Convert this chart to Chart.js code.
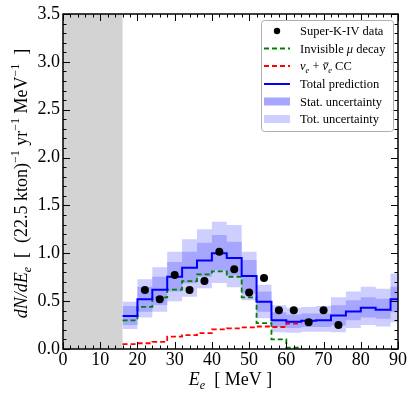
<!DOCTYPE html>
<html><head><meta charset="utf-8">
<script src="https://cdn.jsdelivr.net/npm/chart.js@4.4.1/dist/chart.umd.min.js"></script>
<style>html,body{margin:0;padding:0;background:#fff}#wrap{width:415px;height:399px;position:relative}</style>
</head><body><div id="wrap"><canvas id="c" width="415" height="399"></canvas></div>
<script>
// ---- data ----
const binEdges = [16,20,24,28,32,36,40,44,48,52,56,60,64,68,72,76,80,84,88,90];
const totalPrediction = [0.345,0.52,0.62,0.755,0.85,0.925,1.0,0.95,0.763,0.494,0.30,0.285,0.295,0.30,0.35,0.393,0.43,0.41,0.52];
const statLow  = [0.25,0.39,0.46,0.60,0.686,0.755,0.82,0.77,0.58,0.39,0.23,0.22,0.23,0.23,0.246,0.30,0.33,0.316,0.385];
const statHigh = [0.45,0.65,0.755,0.91,1.017,1.11,1.19,1.12,0.93,0.60,0.385,0.36,0.37,0.37,0.456,0.51,0.54,0.525,0.65];
const totLow   = [0.21,0.33,0.39,0.50,0.546,0.634,0.69,0.645,0.51,0.32,0.176,0.17,0.18,0.18,0.176,0.22,0.25,0.236,0.28];
const totHigh  = [0.494,0.73,0.853,1.017,1.146,1.25,1.33,1.296,1.017,0.67,0.456,0.43,0.44,0.45,0.54,0.60,0.65,0.63,0.79];
const invisibleMuDecay = [0.30,0.44,0.54,0.62,0.71,0.78,0.81,0.755,0.54,0.27,0.10,0.015];
const nueCC = [0.05,0.06,0.075,0.13,0.145,0.165,0.205,0.215,0.225,0.235,0.23,0.265];
const dataEnergy = [22,26,30,34,38,42,46,50,54,58,62,66,70,74];
const dataRate   = [0.617,0.52,0.773,0.617,0.71,1.017,0.833,0.59,0.742,0.404,0.404,0.279,0.404,0.25];
const xTickValues = [0,10,20,30,40,50,60,70,80,90];
const yTickValues = [0,0.5,1.0,1.5,2.0,2.5,3.0,3.5];
const excludedRange = [0,16];

const SERIF = '"Liberation Serif","DejaVu Serif",serif';
const STAT_COLOR = 'rgb(166,166,255)';
const TOT_COLOR = 'rgb(206,206,255)';

function stepPoints(values){
  const pts = values.map((v,i)=>({x:binEdges[i], y:v}));
  pts.push({x:binEdges[values.length], y:values[values.length-1]});
  return pts;
}

function richWidth(ctx, segs){
  let w=0;
  for(const s of segs){ ctx.font=(s.it?'italic ':'')+s.size+'px '+SERIF; w+=ctx.measureText(s.t).width; }
  return w;
}
function drawRich(ctx, segs, x, y, align){
  let cx = x;
  if(align==='center') cx = x - richWidth(ctx,segs)/2;
  ctx.textBaseline='alphabetic'; ctx.textAlign='left'; ctx.fillStyle='#000';
  for(const s of segs){
    ctx.font=(s.it?'italic ':'')+s.size+'px '+SERIF;
    const w = ctx.measureText(s.t).width;
    ctx.fillText(s.t, cx, y+(s.dy||0));
    if(s.bar){ ctx.save(); ctx.strokeStyle='#000'; ctx.lineWidth=0.9; ctx.beginPath();
      ctx.moveTo(cx+1.5, y+(s.dy||0)-s.size*0.58); ctx.lineTo(cx+w+0.5, y+(s.dy||0)-s.size*0.58); ctx.stroke(); ctx.restore(); }
    cx += w;
  }
}

const decor = {
  id:'decor',
  beforeDatasetsDraw(chart){
    const {ctx, chartArea:a, scales:{x}} = chart;
    ctx.save();
    ctx.fillStyle='#d3d3d3';
    const x0=x.getPixelForValue(excludedRange[0]), x1=x.getPixelForValue(excludedRange[1]);
    ctx.fillRect(x0, a.top, x1-x0, a.bottom-a.top);
    ctx.restore();
  },
  afterDatasetsDraw(chart){
    const {ctx, chartArea:a, scales:{x,y}} = chart;
    ctx.save();
    // ticks (inward, all sides)
    ctx.strokeStyle='#000'; ctx.lineWidth=1;
    ctx.beginPath();
    for(let v=0; v<=90; v+=2){
      const px=Math.round(x.getPixelForValue(v))+0.5;
      const L = (v%10===0)?7:3.5;
      ctx.moveTo(px,a.bottom); ctx.lineTo(px,a.bottom-L);
      ctx.moveTo(px,a.top); ctx.lineTo(px,a.top+L);
    }
    for(let k=0; k<=35; k++){
      const v=k/10;
      const py=Math.round(y.getPixelForValue(v))+0.5;
      const L = (k%5===0)?7:3.5;
      ctx.moveTo(a.left,py); ctx.lineTo(a.left+L,py);
      ctx.moveTo(a.right,py); ctx.lineTo(a.right-L,py);
    }
    ctx.stroke();
    // frame
    ctx.lineWidth=1.5;
    ctx.strokeRect(a.left, a.top, a.right-a.left, a.bottom-a.top);

    // legend
    const lx=261, ly=20, lw=132, lh=111;
    ctx.fillStyle='rgba(255,255,255,0.85)';
    ctx.strokeStyle='#b0b0b0'; ctx.lineWidth=1;
    ctx.beginPath(); ctx.roundRect(lx+0.5, ly+0.5, lw, lh, 3); ctx.fill(); ctx.stroke();
    const rows=[31,48.5,66,84,101.5,119];
    const hx0=264, hx1=290, tx=300, fs=12.5;
    // dot
    ctx.fillStyle='#000'; ctx.beginPath(); ctx.arc(277, rows[0], 3.2, 0, Math.PI*2); ctx.fill();
    // dashed lines
    const dline=(yy,col,dash,w)=>{ctx.save();ctx.strokeStyle=col;ctx.lineWidth=w;ctx.setLineDash(dash);ctx.beginPath();ctx.moveTo(hx0,yy);ctx.lineTo(hx1,yy);ctx.stroke();ctx.restore();};
    dline(rows[1],'#008000',[5,3],1.8);
    dline(rows[2],'#ff0000',[5,3],1.8);
    dline(rows[3],'#0000ff',[],2);
    ctx.fillStyle=STAT_COLOR; ctx.fillRect(hx0,rows[4]-4,hx1-hx0,8);
    ctx.fillStyle=TOT_COLOR; ctx.fillRect(hx0,rows[5]-4,hx1-hx0,8);
    const b=4.3;
    drawRich(ctx,[{t:'Super-K-IV data',size:fs}],tx,rows[0]+b);
    drawRich(ctx,[{t:'Invisible ',size:fs},{t:'\u03bc',size:fs,it:true},{t:' decay',size:fs}],tx,rows[1]+b);
    drawRich(ctx,[{t:'\u03bd',size:fs,it:true},{t:'e',size:8.5,it:true,dy:2.5},{t:' + ',size:fs},{t:'\u03bd',size:fs,it:true,bar:true},{t:'e',size:8.5,it:true,dy:2.5},{t:' CC',size:fs}],tx,rows[2]+b);
    drawRich(ctx,[{t:'Total prediction',size:fs}],tx,rows[3]+b);
    drawRich(ctx,[{t:'Stat. uncertainty',size:fs}],tx,rows[4]+b);
    drawRich(ctx,[{t:'Tot. uncertainty',size:fs}],tx,rows[5]+b);

    // axis titles
    const F=18, S=12;
    drawRich(ctx,[{t:'E',size:F,it:true},{t:'e',size:S,it:true,dy:4},{t:'  [ MeV ]',size:F}], (a.left+a.right)/2, 385, 'center');
    ctx.save();
    ctx.translate(27, (a.top+a.bottom)/2+2);
    ctx.rotate(-Math.PI/2);
    drawRich(ctx,[{t:'dN/dE',size:F,it:true},{t:'e',size:S,it:true,dy:4},{t:'  [  (22.5 kton)',size:F},{t:'\u22121',size:S,dy:-8},
      {t:' yr',size:F},{t:'\u22121',size:S,dy:-8},{t:' MeV',size:F},{t:'\u22121',size:S,dy:-8},{t:'  ]',size:F}],0,0,'center');
    ctx.restore();
    ctx.restore();
  }
};

const lineBase = {type:'line', stepped:true, pointRadius:0, tension:0, fill:false};
const cfg = {
  type:'line',
  data:{datasets:[
    {type:'scatter', label:'Super-K-IV data', data:dataEnergy.map((e,i)=>({x:e,y:dataRate[i]})), showLine:false,
      pointRadius:4, pointBackgroundColor:'#000', pointBorderWidth:0, order:0},
    {...lineBase, label:'Total prediction', data:stepPoints(totalPrediction), borderColor:'#0000ff', borderWidth:2, order:1},
    {...lineBase, label:'Invisible mu decay', data:stepPoints(invisibleMuDecay), borderColor:'#008000', borderWidth:1.8, borderDash:[5,3], order:2},
    {...lineBase, label:'nue CC', data:stepPoints(nueCC), borderColor:'#ff0000', borderWidth:1.8, borderDash:[5,3], order:3},
    {...lineBase, label:'stat high', data:stepPoints(statHigh), borderColor:'rgba(0,0,0,0)', borderWidth:0, fill:'+1', backgroundColor:STAT_COLOR, order:4},
    {...lineBase, label:'stat low', data:stepPoints(statLow), borderColor:'rgba(0,0,0,0)', borderWidth:0, order:4},
    {...lineBase, label:'tot high', data:stepPoints(totHigh), borderColor:'rgba(0,0,0,0)', borderWidth:0, fill:'+1', backgroundColor:TOT_COLOR, order:5},
    {...lineBase, label:'tot low', data:stepPoints(totLow), borderColor:'rgba(0,0,0,0)', borderWidth:0, order:5}
  ]},
  options:{
    responsive:false, animation:false, devicePixelRatio:1,
    layout:{padding:{top:14,right:17,left:0,bottom:0}},
    plugins:{legend:{display:false}, tooltip:{enabled:false}},
    scales:{
      x:{type:'linear', min:0, max:90, afterBuildTicks(s){s.ticks=xTickValues.map(v=>({value:v}));},
        ticks:{autoSkip:false, maxRotation:0, color:'#000', font:{family:SERIF,size:18}, padding:0},
        grid:{display:false, drawTicks:false}, border:{display:false},
        afterFit(s){s.height=50;}},
      y:{type:'linear', min:0, max:3.5, afterBuildTicks(s){s.ticks=yTickValues.map(v=>({value:v}));},
        ticks:{autoSkip:false, color:'#000', font:{family:SERIF,size:18}, padding:3, callback:v=>Number(v).toFixed(1)},
        grid:{display:false, drawTicks:false}, border:{display:false},
        afterFit(s){s.width=63;}}
    }
  },
  plugins:[decor]
};
new Chart(document.getElementById('c'), cfg);
</script>
</body></html>
